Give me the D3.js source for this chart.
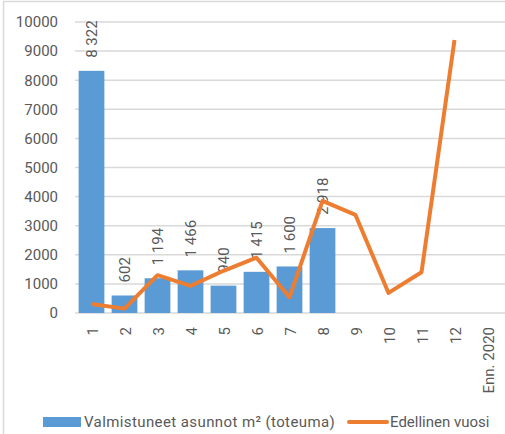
<!DOCTYPE html>
<html>
<head>
<meta charset="utf-8">
<script src="https://d3js.org/d3.v7.min.js"></script>
<style>
  body { margin: 0; background: #fff; }
  text { font-family: Roboto, "Liberation Sans", sans-serif; fill: #595959; }
</style>
</head>
<body>
<svg width="505" height="434"></svg>
<script>
  const categories = ['1', '2', '3', '4', '5', '6', '7', '8', '9', '10', '11', '12', 'Enn. 2020']
  const barValues = [8322, 602, 1194, 1466, 940, 1415, 1600, 2918]
  const barLabels = ['8 322', '602', '1 194', '1 466', '940', '1 415', '1 600', '2 918']
  const lineValues = [310, 150, 1300, 930, 1450, 1900, 540, 3850, 3370, 690, 1400, 9380]
  const yTicks = [0, 1000, 2000, 3000, 4000, 5000, 6000, 7000, 8000, 9000, 10000]
  const barName = 'Valmistuneet asunnot m² (toteuma)'
  const lineName = 'Edellinen vuosi'

  const svg = d3.select('svg')

  // chart frame
  svg.append('rect')
    .attr('x', 3.5).attr('y', 1.5)
    .attr('width', 520).attr('height', 450)
    .attr('fill', 'none').attr('stroke', '#d9d9d9').attr('stroke-width', 1.5)

  const plotLeft = 75, plotRight = 504, plotTop = 22, plotBottom = 313

  const x = d3.scaleBand()
    .domain(categories)
    .range([plotLeft, plotRight])
    .paddingInner(0.22)
    .paddingOuter(0.11)

  const y = d3.scaleLinear()
    .domain([0, 10000])
    .range([plotBottom, plotTop])

  // gridlines
  svg.append('g')
    .selectAll('line')
    .data(yTicks)
    .join('line')
    .attr('x1', plotLeft).attr('x2', plotRight + 2)
    .attr('y1', d => y(d)).attr('y2', d => y(d))
    .attr('stroke', '#d9d9d9').attr('stroke-width', 1.5)

  // y axis labels
  const yAxis = svg.append('g')
    .attr('transform', `translate(${plotLeft - 17},0)`)
    .call(d3.axisLeft(y).tickValues(yTicks).tickSize(0).tickPadding(0).tickFormat(d3.format('d')))
  yAxis.select('.domain').remove()
  yAxis.selectAll('text').style('font-size', '15px').attr('fill', '#595959')

  // x axis labels (rotated)
  const xAxis = svg.append('g')
    .attr('transform', `translate(0,${plotBottom})`)
    .call(d3.axisBottom(x).tickSize(0).tickPadding(0))
  xAxis.select('.domain').remove()
  xAxis.selectAll('text')
    .style('font-size', '15px')
    .attr('fill', '#595959')
    .attr('text-anchor', 'end')
    .attr('dy', null)
    .attr('transform', 'translate(6,14) rotate(-90)')

  // bars
  svg.append('g')
    .selectAll('rect')
    .data(barValues)
    .join('rect')
    .attr('x', (d, i) => x(categories[i]))
    .attr('y', d => y(d))
    .attr('width', x.bandwidth())
    .attr('height', d => plotBottom - y(d))
    .attr('fill', '#5b9bd5')

  // bar labels
  svg.append('g')
    .selectAll('text')
    .data(barValues)
    .join('text')
    .attr('transform', (d, i) => `translate(${x(categories[i]) + x.bandwidth() / 2 + 5},${y(d) - 13}) rotate(-90)`)
    .attr('text-anchor', 'start')
    .style('font-size', '15px')
    .text((d, i) => barLabels[i])

  // line
  const line = d3.line()
    .x((d, i) => x(categories[i]) + x.bandwidth() / 2)
    .y(d => y(d))
  svg.append('path')
    .datum(lineValues)
    .attr('d', line)
    .attr('fill', 'none')
    .attr('stroke', '#ed7d31')
    .attr('stroke-width', 4)
    .attr('stroke-linejoin', 'round')

  // legend
  const lg = svg.append('g').attr('transform', 'translate(0,422)')
  lg.append('rect').attr('x', 43).attr('y', -5).attr('width', 38).attr('height', 10).attr('fill', '#5b9bd5')
  lg.append('text').attr('x', 84).attr('y', 5).style('font-size', '15px').style('letter-spacing', '0.4px').text(barName)
  lg.append('line').attr('x1', 349).attr('x2', 387).attr('y1', 0).attr('y2', 0)
    .attr('stroke', '#ed7d31').attr('stroke-width', 4).attr('stroke-linecap', 'round')
  lg.append('text').attr('x', 390).attr('y', 5).style('font-size', '15px').text(lineName)
</script>
</body>
</html>
